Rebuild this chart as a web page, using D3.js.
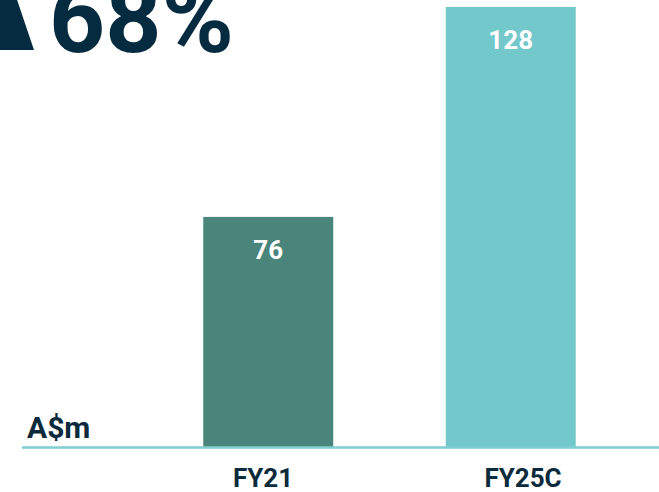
<!DOCTYPE html>
<html>
<head>
    <meta charset='utf-8'>
    <title>Revenue growth</title>
    <script src='https://cdn.jsdelivr.net/npm/d3@7'></script>
    <style>
        body { margin: 0; background: #fff; }
        text { font-family: Roboto, 'Noto Sans', sans-serif; font-weight: 700; }
    </style>
</head>
<body>
    <svg width='659' height='492'></svg>
    <script>
        const categories = ['FY21', 'FY25C']
        const values = [76, 128]
        const barColors = ['#4a857b', '#72c8ca']
        const growthLabel = '68%'
        const unitLabel = 'A$m'

        const svg = d3.select('svg')
        const baseY = 447

        const x = d3.scaleBand()
            .domain(categories)
            .range([147, 632])
            .paddingInner(0.464)
            .paddingOuter(0.232)

        // category labels sit a little off the bar centres in the original
        const labelX = d3.scalePoint()
            .domain(categories)
            .range([263, 523])

        // axis does not start at zero in the original
        const y = d3.scaleLinear()
            .domain([19, 128])
            .range([baseY, 7])

        svg.selectAll('rect.bar')
            .data(values)
            .join('rect')
            .attr('class', 'bar')
            .attr('x', (d, i) => x(categories[i]))
            .attr('y', d => y(d))
            .attr('width', x.bandwidth())
            .attr('height', d => baseY - y(d))
            .attr('fill', (d, i) => barColors[i])

        svg.selectAll('text.val')
            .data(values)
            .join('text')
            .attr('class', 'val')
            .attr('x', (d, i) => x(categories[i]) + x.bandwidth() / 2)
            .attr('y', d => y(d) + 42)
            .attr('text-anchor', 'middle')
            .attr('fill', '#fff')
            .style('font-size', '26px')
            .text(d => d)

        // baseline
        svg.append('line')
            .attr('x1', 22).attr('x2', 659)
            .attr('y1', baseY + 0.5).attr('y2', baseY + 0.5)
            .attr('stroke', '#7fcfd1')
            .attr('stroke-width', 2.5)

        svg.selectAll('text.cat')
            .data(categories)
            .join('text')
            .attr('class', 'cat')
            .attr('x', d => labelX(d))
            .attr('y', 487)
            .attr('text-anchor', 'middle')
            .attr('fill', '#0b2b3d')
            .style('font-size', '26px')
            .text(d => d)

        svg.append('text')
            .attr('x', 27)
            .attr('y', 438)
            .attr('fill', '#0b2b3d')
            .style('font-size', '30px')
            .text(unitLabel)

        // growth headline
        svg.append('path')
            .attr('d', 'M-18,50 L8,-27 L34,50 Z')
            .attr('fill', '#042b40')
        svg.append('text')
            .attr('x', 49)
            .attr('y', 52)
            .attr('fill', '#042b40')
            .style('font-size', '98px')
            .text(growthLabel)
    </script>
</body>
</html>
